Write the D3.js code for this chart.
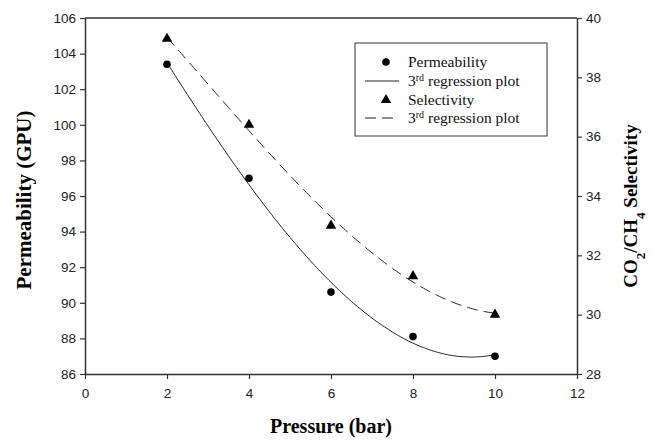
<!DOCTYPE html>
<html><head><meta charset="utf-8">
<script src="https://cdn.jsdelivr.net/npm/d3@7"></script>
<style>body{margin:0;background:#fff}</style>
</head><body>
<svg id="c" width="653" height="441"></svg>
<script>
const pressure = [2, 4, 6, 8, 10];
const permeability = [103.4, 97.0, 90.6, 88.1, 87.0];
const selectivity = [39.3, 36.4, 33.0, 31.3, 30.0];
const xTicks = [0, 2, 4, 6, 8, 10, 12];
const yLeftTicks = [86, 88, 90, 92, 94, 96, 98, 100, 102, 104, 106];
const yRightTicks = [28, 30, 32, 34, 36, 38, 40];
const legendLabels = ["Permeability", "3rd regression plot", "Selectivity", "3rd regression plot"];

const svg = d3.select("#c");
const L = 85, R = 577, T = 18, B = 374;
const x = d3.scaleLinear().domain([0, 12]).range([L, R]);
const yL = d3.scaleLinear().domain([86, 106]).range([B, T]);
const yR = d3.scaleLinear().domain([28, 40]).range([B, T]);
const axisColor = "#333";

// cubic least-squares fit (3rd order regression of the data points)
function cubicFit(xs, ys) {
  const n = 4;
  const A = Array.from({length: n}, () => new Array(n + 1).fill(0));
  xs.forEach((xv, k) => {
    for (let i = 0; i < n; i++) {
      for (let j = 0; j < n; j++) A[i][j] += Math.pow(xv, i + j);
      A[i][n] += ys[k] * Math.pow(xv, i);
    }
  });
  for (let c = 0; c < n; c++) {
    let p = c;
    for (let r = c + 1; r < n; r++) if (Math.abs(A[r][c]) > Math.abs(A[p][c])) p = r;
    [A[c], A[p]] = [A[p], A[c]];
    for (let r = 0; r < n; r++) {
      if (r === c) continue;
      const f = A[r][c] / A[c][c];
      for (let k = c; k <= n; k++) A[r][k] -= f * A[c][k];
    }
  }
  const coef = A.map((row, i) => row[n] / row[i]);
  return xv => coef[0] + coef[1] * xv + coef[2] * xv * xv + coef[3] * xv * xv * xv;
}
const fitP = cubicFit(pressure, permeability);
const fitS = cubicFit(pressure, selectivity);
const xs = d3.range(0, 161).map(i => 2 + i * 0.05);

// top frame line
svg.append("line").attr("x1", L).attr("x2", R).attr("y1", T).attr("y2", T)
  .attr("stroke", axisColor).attr("stroke-width", 1.5);

const fontTick = "'Liberation Sans', Arial, sans-serif";
const fontSerif = "'Liberation Serif', 'Times New Roman', serif";

function styleAxis(g) {
  g.selectAll(".domain").attr("stroke", axisColor).attr("stroke-width", 1.5);
  g.selectAll(".tick line").attr("stroke", axisColor).attr("stroke-width", 1.2);
  g.selectAll(".tick text").attr("fill", "#222").style("font-family", fontTick).style("font-size", "13.5px");
}

svg.append("g").attr("transform", `translate(0,${B})`)
  .call(d3.axisBottom(x).tickValues(xTicks).tickSize(5).tickSizeOuter(0).tickPadding(9))
  .call(styleAxis);
svg.append("g").attr("transform", `translate(${L},0)`)
  .call(d3.axisLeft(yL).tickValues(yLeftTicks).tickSize(5).tickSizeOuter(0).tickPadding(4))
  .call(styleAxis);
svg.append("g").attr("transform", `translate(${R},0)`)
  .call(d3.axisRight(yR).tickValues(yRightTicks).tickSize(5).tickSizeOuter(0).tickPadding(4))
  .call(styleAxis);

// regression curves
svg.append("path").datum(xs)
  .attr("d", d3.line().x(d => x(d)).y(d => yL(fitP(d))))
  .attr("fill", "none").attr("stroke", "#222").attr("stroke-width", 1);
svg.append("path").datum(xs)
  .attr("d", d3.line().x(d => x(d)).y(d => yR(fitS(d))))
  .attr("fill", "none").attr("stroke", "#222").attr("stroke-width", 1)
  .attr("stroke-dasharray", "11,6");

// markers
svg.append("g").selectAll("circle").data(pressure).join("circle")
  .attr("cx", d => x(d)).attr("cy", (d, i) => yL(permeability[i])).attr("r", 3.8).attr("fill", "#000");
const tri = d3.symbol().type(d3.symbolTriangle).size(48);
svg.append("g").selectAll("path").data(pressure).join("path")
  .attr("d", tri).attr("transform", (d, i) => `translate(${x(d)},${yR(selectivity[i])})`).attr("fill", "#000");

// axis titles
svg.append("text").attr("x", (L + R) / 2).attr("y", 433).attr("text-anchor", "middle")
  .style("font-family", fontSerif).style("font-weight", "bold").style("font-size", "20px")
  .text("Pressure (bar)");
svg.append("text").attr("transform", `translate(31,200) rotate(-90)`).attr("text-anchor", "middle")
  .style("font-family", fontSerif).style("font-weight", "bold").style("font-size", "21px")
  .text("Permeability (GPU)");
const rt = svg.append("text").attr("transform", `translate(637,206) rotate(-90)`).attr("text-anchor", "middle")
  .style("font-family", fontSerif).style("font-weight", "bold").style("font-size", "19px");
rt.append("tspan").text("CO");
rt.append("tspan").attr("baseline-shift", "sub").style("font-size", "13px").text("2");
rt.append("tspan").text("/CH");
rt.append("tspan").attr("baseline-shift", "sub").style("font-size", "13px").text("4");
rt.append("tspan").text(" Selectivity");

// legend
const lg = svg.append("g");
lg.append("rect").attr("x", 355).attr("y", 43).attr("width", 192).attr("height", 93)
  .attr("fill", "#fff").attr("stroke", axisColor).attr("stroke-width", 1);
const rows = [62, 81, 100, 118];
lg.append("circle").attr("cx", 386).attr("cy", rows[0]).attr("r", 3.8).attr("fill", "#000");
lg.append("line").attr("x1", 365).attr("x2", 399).attr("y1", rows[1]).attr("y2", rows[1]).attr("stroke", "#222");
lg.append("path").attr("d", tri).attr("transform", `translate(386,${rows[2]})`).attr("fill", "#000");
lg.append("line").attr("x1", 365).attr("x2", 399).attr("y1", rows[3]).attr("y2", rows[3]).attr("stroke", "#222").attr("stroke-dasharray", "11,6");
legendLabels.forEach((lab, i) => {
  const t = lg.append("text").attr("x", 408).attr("y", rows[i] + 5)
    .style("font-family", fontSerif).style("font-size", "15.5px").attr("fill", "#111");
  if (lab.startsWith("3rd")) {
    t.append("tspan").text("3");
    t.append("tspan").attr("baseline-shift", "super").style("font-size", "10px").text("rd");
    t.append("tspan").text(lab.slice(3));
  } else {
    t.text(lab);
  }
});
</script>
</body></html>
